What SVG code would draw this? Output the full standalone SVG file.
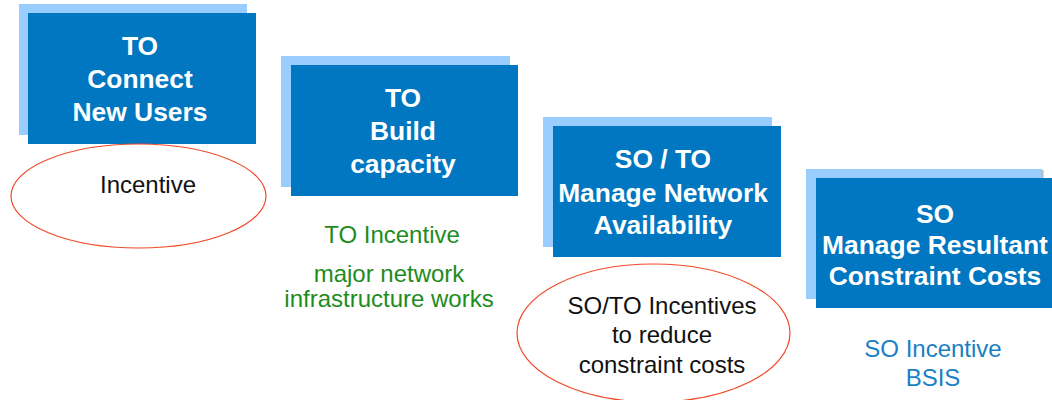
<svg xmlns="http://www.w3.org/2000/svg" width="1052" height="400" viewBox="0 0 1052 400">
<style>
.back{fill:#99CCFF}
.front{fill:#0077C0}
.bt{font-family:"Liberation Sans",Arial,sans-serif;font-weight:bold;font-size:26.4px;fill:#ffffff;text-anchor:middle}
.ell{fill:none;stroke:#F04A28;stroke-width:1.2}
.t{font-family:"Liberation Sans",Arial,sans-serif;font-size:24px;text-anchor:middle}
.blk{fill:#111111}
.grn{fill:#1E8C1E}
.blu{fill:#1A7FC4}
</style>
<rect width="1052" height="400" fill="#ffffff"/>
<g id="connectors"></g>
<g id="node1">
<rect class="back" x="19" y="4" width="228" height="131"/>
<rect class="front" x="28" y="13" width="228" height="131"/>
<text class="bt" x="140" y="55">TO</text>
<text class="bt" x="140" y="88">Connect</text>
<text class="bt" x="140" y="121">New Users</text>
</g>
<g id="ellipse1">
<ellipse class="ell" cx="138.5" cy="196" rx="127.5" ry="52"/>
<text class="t blk" x="148" y="193">Incentive</text>
</g>
<g id="node2">
<rect class="back" x="281" y="56" width="229" height="131"/>
<rect class="front" x="291" y="65" width="227" height="131"/>
<text class="bt" x="403" y="107">TO</text>
<text class="bt" x="403" y="140">Build</text>
<text class="bt" x="403" y="173">capacity</text>
</g>
<g id="label2">
<text class="t grn" x="392" y="243">TO Incentive</text>
<text class="t grn" x="389" y="282">major network</text>
<text class="t grn" x="389" y="307">infrastructure works</text>
</g>
<g id="node3">
<rect class="back" x="543" y="117" width="229" height="130"/>
<rect class="front" x="553" y="126" width="228" height="131"/>
<text class="bt" x="663" y="168">SO / TO</text>
<text class="bt" x="663" y="202">Manage Network</text>
<text class="bt" x="663" y="234">Availability</text>
</g>
<g id="ellipse3">
<ellipse class="ell" cx="653.5" cy="333" rx="136.5" ry="69"/>
<text class="t blk" x="662" y="314">SO/TO Incentives</text>
<text class="t blk" x="662" y="343">to reduce</text>
<text class="t blk" x="662" y="373">constraint costs</text>
</g>
<g id="node4">
<rect class="back" x="806" y="169" width="236" height="130"/>
<rect x="1042" y="170" width="1.5" height="8" fill="#bbbbbb"/>
<rect class="front" x="816" y="178" width="236" height="130"/>
<text class="bt" x="935" y="223">SO</text>
<text class="bt" x="935" y="254">Manage Resultant</text>
<text class="bt" x="935" y="285">Constraint Costs</text>
</g>
<g id="label4">
<text class="t blu" x="933" y="357">SO Incentive</text>
<text class="t blu" x="933" y="386">BSIS</text>
</g>
</svg>
